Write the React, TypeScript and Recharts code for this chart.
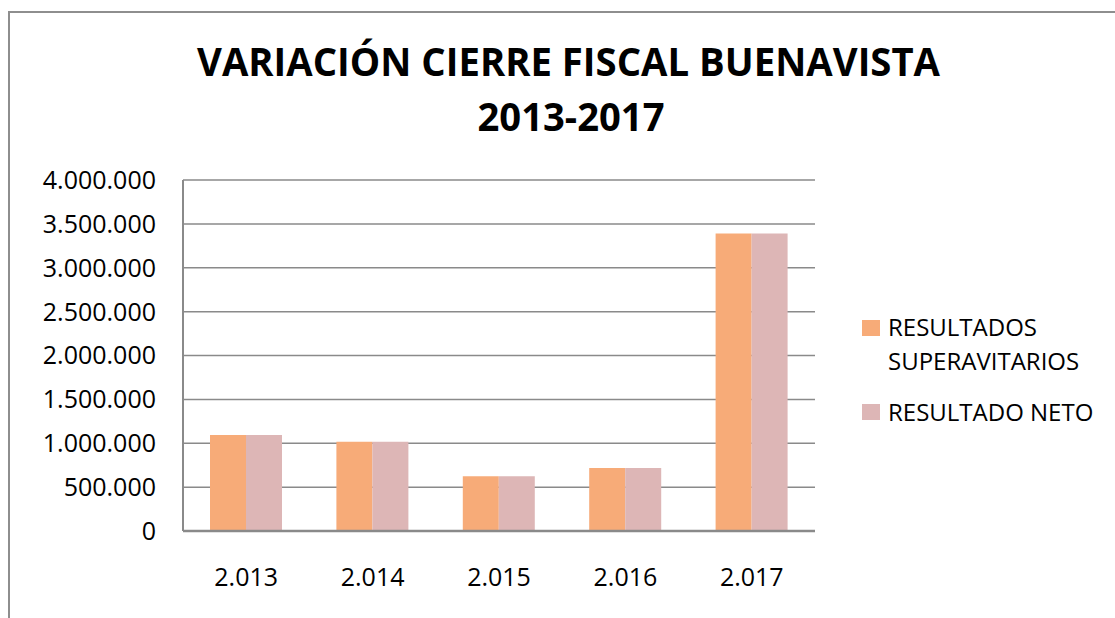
import React from "react";
import { BarChart, Bar, XAxis, YAxis, CartesianGrid, Legend } from "recharts";

const years = ["2.013", "2.014", "2.015", "2.016", "2.017"];
const superavitarios = [1093000, 1017000, 623000, 717000, 3390000];
const neto = [1093000, 1017000, 623000, 717000, 3390000];
const yTicks = [0, 500000, 1000000, 1500000, 2000000, 2500000, 3000000, 3500000, 4000000];
const seriesNames = ["RESULTADOS SUPERAVITARIOS", "RESULTADO NETO"];

const ORANGE = "#F7AB78";
const PINK = "#DDB6B6";
const GRID = "#8a8a8a";
const FONT = "'Open Sans', 'Noto Sans', sans-serif";

const data = years.map((y, i) => ({
    year: y,
    sup: superavitarios[i],
    neto: neto[i],
}));

const fmt = (v: number) => String(v).replace(/\B(?=(\d{3})+(?!\d))/g, ".");

function LegendBox({ payload }: any) {
    // keep the series order, not the alphabetical one
    const items = [...(payload || [])].sort((a: any, b: any) => seriesNames.indexOf(a.value) - seriesNames.indexOf(b.value));
    return (
        <div style={{ fontFamily: FONT, fontSize: 24, lineHeight: "34.3px", color: "#000" }}>
            {items.map((p: any, i: number) => (
                <div key={i} style={{ position: "relative", paddingLeft: 26, marginBottom: 16.4, width: 230 }}>
                    <span style={{ position: "absolute", left: 0, top: 9.5, width: 18, height: 16, background: p.color }} />
                    {p.value}
                </div>
            ))}
        </div>
    );
}

export default function App() {
    return (
        <div style={{ position: "absolute", left: 0, top: 0, width: 1115, height: 618, overflow: "hidden", background: "#fff", fontFamily: FONT }}>
            {/* chart frame, only left and top edges fall in the picture */}
            <div style={{ position: "absolute", left: 8, top: 11, width: 1200, height: 700, borderLeft: "2px solid #8e8e8e", borderTop: "2px solid #8e8e8e" }} />

            <svg width={1115} height={150} style={{ position: "absolute", left: 0, top: 0 }}>
                <text x={568.5} y={76} textAnchor="middle" fontFamily="'Liberation Sans Narrow', 'Open Sans', sans-serif" fontWeight="bold" fontSize={40} textLength={743} lengthAdjust="spacingAndGlyphs" fill="#000">
                    VARIACIÓN CIERRE FISCAL BUENAVISTA
                </text>
                <text x={571} y={131} textAnchor="middle" fontFamily="'Liberation Sans Narrow', 'Open Sans', sans-serif" fontWeight="bold" fontSize={40} textLength={187} lengthAdjust="spacingAndGlyphs" fill="#000">
                    2013-2017
                </text>
            </svg>

            <div style={{ position: "absolute", left: 0, top: 0 }}>
                <BarChart width={1115} height={618} data={data} margin={{ top: 180, right: 300, bottom: 57, left: 0 }} barGap={0} barSize={36}>
                    <CartesianGrid vertical={false} stroke={GRID} strokeWidth={1.5} />
                    <XAxis
                        dataKey="year"
                        height={30}
                        axisLine={{ stroke: GRID, strokeWidth: 2.5 }}
                        tickLine={false}
                        tickSize={0}
                        tickMargin={37}
                        tick={{ fontSize: 25, fill: "#000", fontFamily: FONT }}
                    />
                    <YAxis
                        width={183}
                        domain={[0, 4000000]}
                        ticks={yTicks}
                        tickFormatter={fmt}
                        axisLine={{ stroke: GRID, strokeWidth: 2 }}
                        tickLine={false}
                        tickSize={0}
                        tickMargin={27}
                        tick={{ fontSize: 25, fill: "#000", fontFamily: FONT }}
                    />
                    <Legend
                        layout="vertical"
                        align="center"
                        verticalAlign="middle"
                        content={<LegendBox />}
                        wrapperStyle={{ left: 862, top: 310, width: 250, height: "auto" }}
                    />
                    <Bar dataKey="sup" name={seriesNames[0]} fill={ORANGE} isAnimationActive={false} />
                    <Bar dataKey="neto" name={seriesNames[1]} fill={PINK} isAnimationActive={false} />
                </BarChart>
            </div>
        </div>
    );
}
